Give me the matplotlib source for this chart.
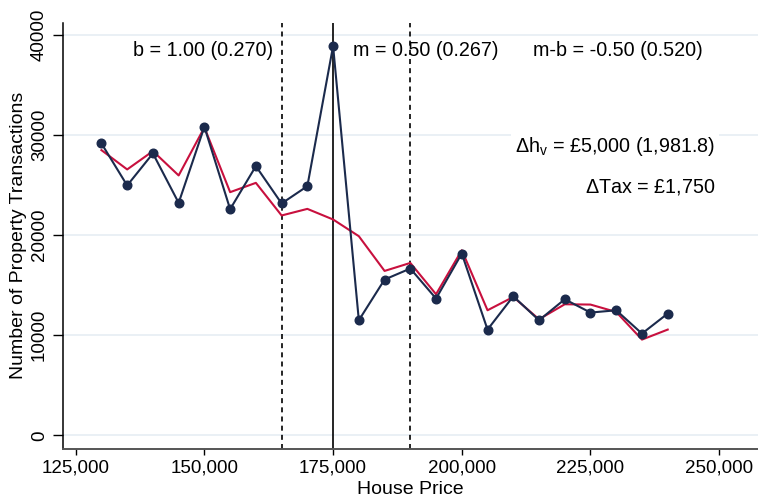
import matplotlib
matplotlib.use("Agg")
import matplotlib.pyplot as plt
from matplotlib.ticker import FuncFormatter

plt.rcParams['font.family'] = ['Liberation Sans', 'DejaVu Sans']
plt.rcParams['mathtext.fontset'] = 'custom'
plt.rcParams['mathtext.rm'] = 'Liberation Sans'
plt.rcParams['mathtext.it'] = 'Liberation Sans:italic'

price = [130000, 135000, 140000, 145000, 150000, 155000, 160000, 165000, 170000,
         175000, 180000, 185000, 190000, 195000, 200000, 205000, 210000, 215000,
         220000, 225000, 230000, 235000, 240000]
actual = [29170, 24970, 28170, 23230, 30830, 22600, 26900, 23170, 24900,
          38900, 11500, 15570, 16670, 13670, 18170, 10570, 13900, 11500,
          13600, 12270, 12500, 10170, 12170]
counterfactual = [28500, 26570, 28400, 25970, 30770, 24300, 25230, 21970, 22630,
                  21570, 19900, 16430, 17230, 14100, 18500, 12500, 13830, 11600,
                  13100, 13070, 12330, 9570, 10570]

lower_bound = 165000
notch = 175000
upper_bound = 190000

xticks = [125000, 150000, 175000, 200000, 225000, 250000]
yticks = [0, 10000, 20000, 30000, 40000]

fig = plt.figure(figsize=(7.58, 4.99), dpi=100)
ax = fig.add_axes([0.0835, 0.1008, 0.9165, 0.8537])

for y in yticks:
    ax.axhline(y, color='#e6edf3', lw=1.2, zorder=0)

ax.axvline(lower_bound, color='black', lw=1.2, ls=(0, (3, 2.5)), zorder=1)
ax.axvline(upper_bound, color='black', lw=1.2, ls=(0, (3, 2.5)), zorder=1)
ax.axvline(notch, color='black', lw=1.2, zorder=1)

ax.plot(price, counterfactual, color='#c8103e', lw=1.5, zorder=3)
ax.plot(price, actual, color='#1b2a4c', lw=1.5, marker='o', ms=6.2, zorder=4)

ax.set_xlim(122590, 257540)
ax.set_ylim(-1330, 41230)
ax.set_xticks(xticks)
ax.set_yticks(yticks)
ax.xaxis.set_major_formatter(FuncFormatter(lambda v, p: f"{int(v):,}"))
ax.yaxis.set_major_formatter(FuncFormatter(lambda v, p: f"{int(v)}"))
ax.tick_params(axis='x', direction='out', length=4, width=1, labelsize=13.5, pad=4)
ax.tick_params(axis='y', direction='out', length=7, width=1, labelsize=13.5, pad=4)
for lab in ax.get_yticklabels():
    lab.set_rotation(90)
    lab.set_va('center')
ax.spines['top'].set_visible(False)
ax.spines['right'].set_visible(False)
ax.spines['bottom'].set_color('#555555')
ax.spines['bottom'].set_linewidth(1.4)
ax.spines['left'].set_linewidth(1.1)

ax.set_xlabel('House Price', fontsize=14, labelpad=3)
ax.set_ylabel('Number of Property Transactions', fontsize=14, labelpad=3)

ax.text(149730, 38420, 'b = 1.00 (0.270)', fontsize=14.2, ha='center', va='center')
ax.text(178870, 38420, 'm = 0.50 (0.267)', fontsize=14.2, ha='left', va='center')
ax.text(230330, 38420, 'm-b = -0.50 (0.520)', fontsize=14.2, ha='center', va='center')
ax.text(249160, 28840, r'$\Delta$h$_\mathregular{v}$ = £5,000 (1,981.8)',
        fontsize=14.2, ha='right', va='center', bbox=dict(fc='white', ec='none', pad=3))
ax.text(249160, 24860, r'$\Delta$Tax = £1,750', fontsize=14.2, ha='right', va='center')

fig.savefig('out.png', dpi=100)
